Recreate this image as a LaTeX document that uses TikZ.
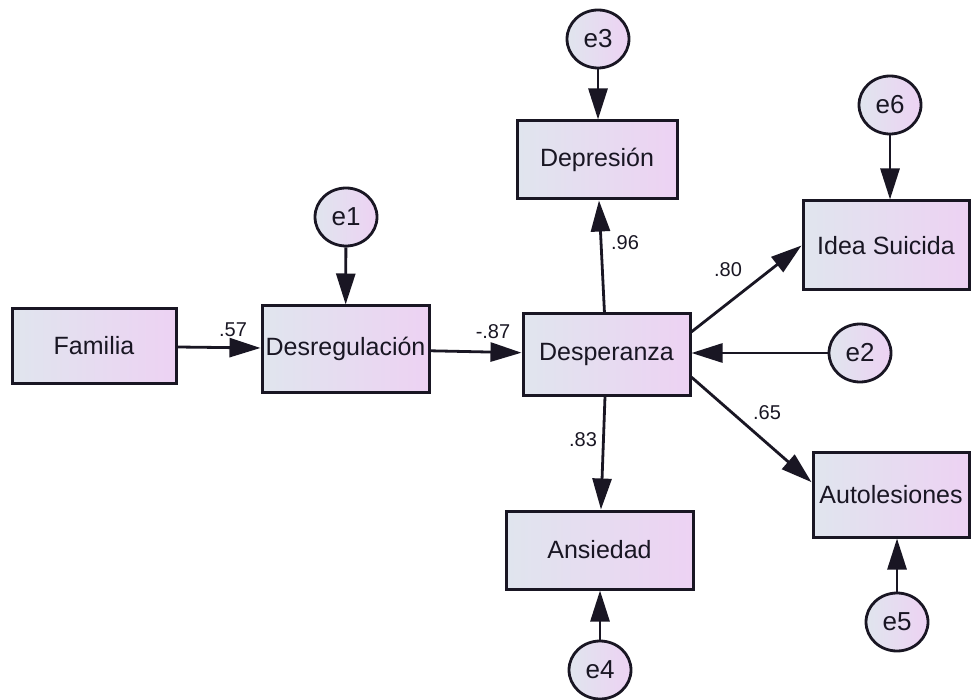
\documentclass[tikz,border=0pt]{standalone}
\usepackage{fontspec}
\setmainfont{Liberation Sans}
\usetikzlibrary{arrows.meta,calc,shapes.geometric}
\definecolor{boxL}{RGB}{224,229,238}
\definecolor{boxR}{RGB}{237,210,243}
\definecolor{txt}{RGB}{25,22,35}
\begin{document}
\begin{tikzpicture}[x=1pt,y=-1pt,
  varbox/.style={draw=txt, line width=3pt, left color=boxL, right color=boxR, inner sep=0pt,
    font=\fontsize{25}{28}\selectfont, text=txt},
  errc/.style={ellipse, draw=txt, line width=2.8pt, left color=boxL, right color=boxR,
    minimum width=62pt, minimum height=58pt, inner sep=0pt,
    font=\fontsize{26}{28}\selectfont, text=txt},
  conn/.style={draw=txt, line width=2.8pt, -{Triangle[length=31pt,width=19pt]}},
  coef/.style={font=\fontsize{20}{22}\selectfont, text=txt, inner sep=0pt}
]
\useasboundingbox (0,0) rectangle (971,700);

% observed variables
\node[varbox, minimum width=164pt, minimum height=74pt] (fam) at (94,346) {Familia};
\node[varbox, minimum width=167pt, minimum height=86pt] (des) at (345.5,349) {Desregulación};
\node[varbox, minimum width=167pt, minimum height=81pt] (desp) at (606.5,354.5) {Desperanza};
\node[varbox, minimum width=160pt, minimum height=78pt] (dep) at (597,160) {Depresión};
\node[varbox, minimum width=187pt, minimum height=78pt] (ans) at (599.5,550) {Ansiedad};
\node[varbox, minimum width=166pt, minimum height=89pt] (ide) at (886,245.5) {Idea Suicida};
\node[varbox, minimum width=156pt, minimum height=85pt] (aut) at (891,494.5) {Autolesiones};

% error terms
\node[errc] (e3) at (598,39) {e3};
\node[errc] (e6) at (890,105) {e6};
\node[errc] (e1) at (346,217) {e1};
\node[errc] (e2) at (860,353) {e2};
\node[errc] (e4) at (600,670) {e4};
\node[errc] (e5) at (897,622) {e5};

% structural paths
\draw[conn] (fam) -- (des);
\draw[conn] (des) -- (desp);
\draw[conn] (desp) -- (dep);
\draw[conn] (desp) -- (ans);
\draw[conn] ($(desp.north east)!0.23!(desp.south east)$) -- (ide.west);
\draw[conn] ($(desp.north east)!0.77!(desp.south east)$) -- ($(aut.north west)!0.36!(aut.south west)$);

% error paths
\draw[conn] (e1) -- (des);
\draw[conn] (e3) -- (e3 |- dep.north);
\draw[conn] (e6) -- (e6 |- ide.north);
\draw[conn] (e2) -- (e2 -| desp.east);
\draw[conn] (e4) -- (e4 |- ans.south);
\draw[conn] (e5) -- (e5 |- aut.south);

% coefficients
\node[coef] (c57) at (233,330) {.57};
\node[coef] (c87) at (493,332) {-.87};
\node[coef] (c96) at (625,243) {.96};
\node[coef] (c80) at (728,270) {.80};
\node[coef] (c83) at (583,440) {.83};
\node[coef] (c65) at (767,413) {.65};
\end{tikzpicture}
\end{document}
